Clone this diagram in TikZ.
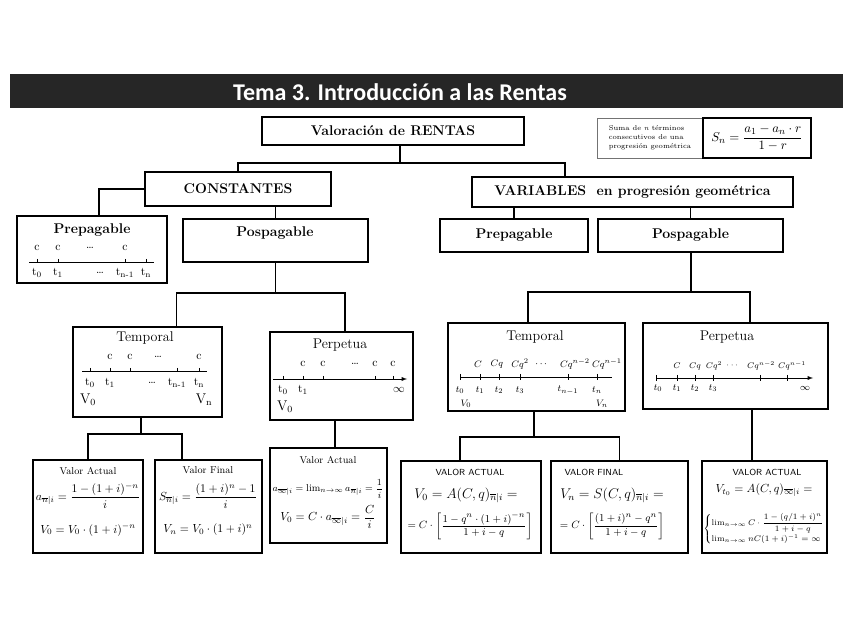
\documentclass[tikz,border=0pt]{standalone}
\usepackage{amsmath}
\usepackage{amssymb}
\usepackage{fontspec}
\newfontfamily\titlefont{Carlito}
\usetikzlibrary{arrows,positioning,calc}

\begin{document}
\begin{tikzpicture}[x=0.3mm, y=-0.3mm,
  box/.style 2 args = {draw, line width=0.9pt, inner sep=1pt,
    minimum width=#1*0.3mm, minimum height=#2*0.3mm},
  head/.style = {font=\bfseries\fontsize{12}{14}\selectfont},
  link/.style = {line width=0.9pt},
  axis/.style = {line width=0.6pt},
  lbl/.style = {inner sep=0pt, font=\fontsize{10}{12}\selectfont},
  sub/.style = {inner sep=0pt, font=\fontsize{12}{14}\selectfont},
  vt/.style = {inner sep=0pt, font=\fontsize{8.5}{10}\selectfont},
  hand/.style = {inner sep=0pt, font=\sffamily\fontsize{7.5}{9}\selectfont},
  cq/.style = {inner sep=0pt, font=\fontsize{8}{9}\selectfont}]
  \useasboundingbox (0,0) rectangle (848,630);

  % title bar
  \node[box={833}{34}, draw=none, fill=black!85] (bar) at (426.5,91) {};
  \node[text=white, font=\titlefont\bfseries\fontsize{20.5}{24}\selectfont] (title) at (400,92) {Tema 3. Introducción a las Rentas};

  % top level
  \node[box={262}{28}, head] (val) at (393,131) {Valoración de RENTAS};
  \node[box={106}{40}, draw=black!55, line width=0.5pt, align=left,
    font=\fontsize{6}{7.5}\selectfont] (sumtxt) at (650,138) {Suma de \textit{n} términos\\consecutivos de una\\progresión geométrica};
  \node[box={108}{40}, font=\fontsize{11}{13}\selectfont] (sumf) at (757,138) {$S_n=\dfrac{a_1-a_n\cdot r}{1-r}$};

  \node[box={186}{34}, head] (const) at (238,189) {CONSTANTES};
  \node[box={321}{30}, head] (var) at (632.5,192) {VARIABLES\ \ en progresión geométrica};

  \coordinate (j1) at (400,163);
  \draw[link] (j1) -- (j1 |- val.south);
  \draw[link] (const.north) |- (j1) -| ($(var.north)+(-67.5,0)$);

  % constantes
  \node[box={150}{67}] (prepC) at (92,249.5) {};
  \node[head] (prepCt) at (92,230) {Prepagable};
  \node[box={185}{43}] (posC) at (275.5,240.5) {};
  \node[head] (posCt) at (275,233) {Pospagable};
  \draw[link] (const.west) -| ($(prepC.north)+(7,0)$);
  \draw[link] (posC.north) -- (posC.north |- const.south);

  \draw[axis] (29,262) -- (154,262);
  \foreach \x in {37,58,125,146} \draw[axis] (\x,259) -- (\x,262);
  \foreach \x/\s [count=\k] in {37/c,58/c,90/\dots,125/c} \node[lbl] (pcC\k) at (\x,248) {\s};
  \foreach \x/\s [count=\k] in {37/t\textsubscript{0},58/t\textsubscript{1},100/\dots,125/t\textsubscript{n-1},146/t\textsubscript{n}}
    \node[lbl] (ptC\k) at (\x,273) {\s};

  % variables
  \node[box={148}{33}, head] (prepV) at (514,235.5) {Prepagable};
  \node[box={185}{33}, head] (posV) at (690.5,235.5) {Pospagable};
  \draw[link] (prepV.north) -- (prepV.north |- var.south);
  \draw[link] (posV.north) -- (posV.north |- var.south);

  % temporal / perpetua (constantes)
  \node[box={149}{90}] (tempC) at (147.5,372) {};
  \node[box={143}{88}] (perpC) at (341.5,376) {};
  \coordinate (j2) at (275.5,293);
  \draw[link] (j2) -- (j2 |- posC.south);
  \draw[link] ($(tempC.north)+(29,0)$) |- (j2) -| ($(perpC.north)+(3.5,0)$);

  \node[sub] (tempCt) at (145,338) {Temporal};
  \draw[axis] (82,371) -- (207,371);
  \foreach \x in {90,110,130,177,199} \draw[axis] (\x,368) -- (\x,371);
  \foreach \x/\s [count=\k] in {110/c,130/c,158/\dots,199/c} \node[lbl] (tcC\k) at (\x,357) {\s};
  \foreach \x/\s [count=\k] in {90/t\textsubscript{0},110/t\textsubscript{1},152/\dots,177/t\textsubscript{n-1},199/t\textsubscript{n}}
    \node[lbl] (ttC\k) at (\x,383) {\s};
  \node[sub] (v0C) at (88,400) {V\textsubscript{0}};
  \node[sub] (vnC) at (204,400) {V\textsubscript{n}};

  \node[sub] (perpCt) at (340,345) {Perpetua};
  \draw[axis, -latex] (273,379) -- (407,379);
  \foreach \x in {283,303,323,375,393} \draw[axis] (\x,376) -- (\x,379);
  \foreach \x/\s [count=\k] in {303/c,323/c,355/\dots,375/c,393/c} \node[lbl] (rcC\k) at (\x,364) {\s};
  \foreach \x/\s [count=\k] in {283/t\textsubscript{0},303/t\textsubscript{1},399/$\infty$}
    \node[lbl] (rtC\k) at (\x,390) {\s};
  \node[sub] (w0C) at (285,407) {V\textsubscript{0}};

  % valores (constantes)
  \node[box={110}{93}] (vaC) at (88,506.5) {};
  \node[box={107}{93}] (vfC) at (208.5,506.5) {};
  \node[box={117}{95}] (paC) at (328.5,495.5) {};
  \coordinate (j3) at (141,434);
  \draw[link] (j3) -- (j3 |- tempC.south);
  \draw[link] (vaC.north) |- (j3) -| ($(vfC.north)+(-26.5,0)$);
  \draw[link] ($(perpC.south)+(-6.5,0)$) coordinate (p1) -- (p1 |- paC.north);

  \node[vt] (vaCt) at (88,471) {Valor Actual};
  \node[lbl] (vaC1) at (88,496) {$a_{\overline{n}|i}=\dfrac{1-(1+i)^{-n}}{i}$};
  \node[lbl] (vaC2) at (88,530) {$V_0=V_0\cdot(1+i)^{-n}$};
  \node[vt] (vfCt) at (208,470) {Valor Final};
  \node[lbl] (vfC1) at (208,496) {$S_{\overline{n}|i}=\dfrac{(1+i)^{n}-1}{i}$};
  \node[lbl] (vfC2) at (208,530) {$V_n=V_0\cdot(1+i)^{n}$};
  \node[vt] (paCt) at (328,460) {Valor Actual};
  \node[lbl, font=\fontsize{8.5}{10}\selectfont] (paC1) at (328,489) {$a_{\overline{\infty}|i}=\lim_{n\to\infty}a_{\overline{n}|i}=\dfrac{1}{i}$};
  \node[lbl] (paC2) at (328,517) {$V_0=C\cdot a_{\overline{\infty}|i}=\dfrac{C}{i}$};

  % temporal / perpetua (variables)
  \node[box={177}{88}] (tempV) at (536.5,367) {};
  \node[box={185}{86}] (perpV) at (735.5,366) {};
  \coordinate (j5) at (691,292);
  \draw[link] (j5) -- (j5 |- posV.south);
  \draw[link] ($(tempV.north)+(-8.5,0)$) |- (j5) -| ($(perpV.north)+(14.5,0)$);

  \node[sub] (tempVt) at (535,337) {Temporal};
  \draw[axis] (460,377) -- (612,377);
  \foreach \x in {460,480,499,520,568,597} \draw[axis] (\x,374) -- (\x,380);
  \foreach \x/\s [count=\k] in {478/C,497/Cq,520/Cq^2,542/\cdots,575/Cq^{n-2},607/Cq^{n-1}}
    \node[cq] (tcV\k) at (\x,364) {$\s$};
  \foreach \x/\s [count=\k] in {460/t_0,480/t_1,499/t_2,520/t_3,568/t_{n-1},597/t_n}
    \node[cq] (ttV\k) at (\x,390) {$\s$};
  \node[cq] (v0V) at (466,404) {$V_0$};
  \node[cq] (vnV) at (602,404) {$V_n$};

  \node[sub] (perpVt) at (727,337) {Perpetua};
  \draw[axis, -latex] (656,378) -- (813,378);
  \foreach \x in {656,677,695,713,760,787} \draw[axis] (\x,375) -- (\x,381);
  \foreach \x/\s [count=\k] in {677/C,695/Cq,714/Cq^2,733/\cdots,761/Cq^{n-2},792/Cq^{n-1}}
    \node[cq, font=\fontsize{7}{8}\selectfont] (rcV\k) at (\x,366) {$\s$};
  \foreach \x/\s [count=\k] in {658/t_0,677/t_1,695/t_2,713/t_3,805/\infty}
    \node[cq] (rtV\k) at (\x,388) {$\s$};

  % valores (variables)
  \node[box={140}{92}] (vaV) at (471,507) {};
  \node[box={137}{92}] (vfV) at (619.5,507) {};
  \node[box={125}{92}] (paV) at (764.5,507) {};
  \coordinate (j6) at (534,437);
  \draw[link] (j6) -- (j6 |- tempV.south);
  \draw[link] ($(vaV.north)+(-11,0)$) |- (j6) -| (vfV.north);
  \draw[link] ($(perpV.south)+(16.5,0)$) coordinate (p2) -- (p2 |- paV.north);

  \node[hand] (vaVt) at (470,472) {VALOR ACTUAL};
  \node[lbl, font=\fontsize{11.5}{13}\selectfont] (vaV1) at (466,495) {$V_0=A(C,q)_{\overline{n}|i}=$};
  \node[lbl, font=\fontsize{9.5}{11}\selectfont] (vaV2) at (470,526) {$=C\cdot\left[\dfrac{1-q^n\cdot(1+i)^{-n}}{1+i-q}\right]$};
  \node[hand] (vfVt) at (594,472) {VALOR FINAL};
  \node[lbl, font=\fontsize{11.5}{13}\selectfont] (vfV1) at (612,495) {$V_n=S(C,q)_{\overline{n}|i}=$};
  \node[lbl, font=\fontsize{9.5}{11}\selectfont] (vfV2) at (612,526) {$=C\cdot\left[\dfrac{(1+i)^n-q^n}{1+i-q}\right]$};
  \node[hand] (paVt) at (767,472) {VALOR ACTUAL};
  \node[lbl, font=\fontsize{10}{12}\selectfont] (paV1) at (764,490) {$V_{t_0}=A(C,q)_{\overline{\infty}|i}=$};
  \node[lbl, font=\fontsize{7}{8}\selectfont] (paV2) at (764,529) {$\left\{\begin{array}{@{}l@{}}\lim_{n\to\infty}C\cdot\dfrac{1-(q/1+i)^n}{1+i-q}\\[5pt] \lim_{n\to\infty}nC(1+i)^{-1}=\infty\end{array}\right.$};
\end{tikzpicture}
\end{document}
